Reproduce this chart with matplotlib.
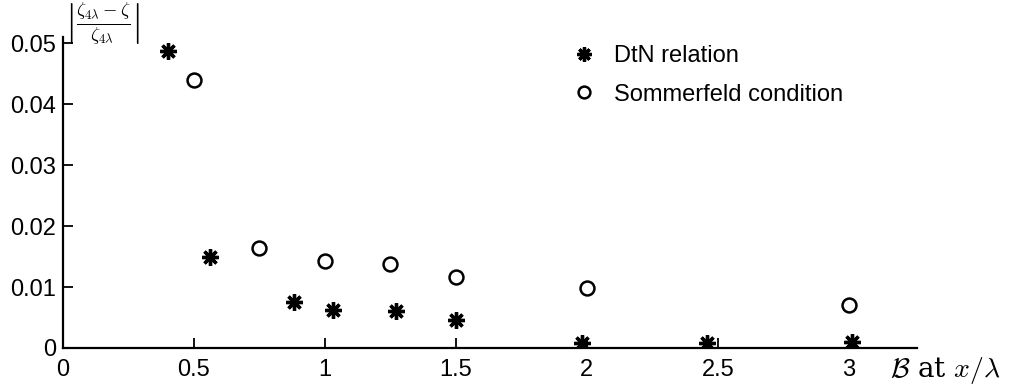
import matplotlib
matplotlib.use("Agg")
import matplotlib.pyplot as plt

# data
dtn_x = [0.40, 0.56, 0.88, 1.03, 1.27, 1.50, 1.98, 2.46, 3.01]
dtn_y = [0.0487, 0.0149, 0.0076, 0.0063, 0.0061, 0.0046, 0.0009, 0.0008, 0.0010]
som_x = [0.50, 0.75, 1.00, 1.25, 1.50, 2.00, 3.00]
som_y = [0.0439, 0.0164, 0.0142, 0.0138, 0.0117, 0.0098, 0.0071]

xticks = [0, 0.5, 1, 1.5, 2, 2.5, 3]
xtick_labels = ["0", "0.5", "1", "1.5", "2", "2.5", "3"]
yticks = [0, 0.01, 0.02, 0.03, 0.04, 0.05]
ytick_labels = ["0", "0.01", "0.02", "0.03", "0.04", "0.05"]

plt.rcParams['font.family'] = ['Liberation Sans', 'DejaVu Sans']
plt.rcParams['mathtext.fontset'] = 'cm'

W, H = 1010, 388
fig = plt.figure(figsize=(W / 100, H / 100), dpi=100)
ax = fig.add_axes([63 / W, 1 - 348 / H, (917 - 63) / W, (348 - 37) / H])

ax.plot(dtn_x, dtn_y, linestyle='none', marker=(8, 2, 0), markersize=12,
        markeredgewidth=2.4, color='k', label='DtN relation')
ax.plot(som_x, som_y, linestyle='none', marker='o', markersize=10,
        markerfacecolor='none', markeredgewidth=1.8, color='k',
        label='Sommerfeld condition')

ax.set_xlim(0, 3.26)
ax.set_ylim(0, 0.051)
ax.set_xticks(xticks)
ax.set_xticklabels(xtick_labels)
ax.set_yticks(yticks)
ax.set_yticklabels(ytick_labels)
ax.tick_params(direction='in', length=7, width=1.3, labelsize=17, pad=5)
ax.tick_params(axis='x', pad=8)

for s in ['top', 'right']:
    ax.spines[s].set_visible(False)
for s in ['left', 'bottom']:
    ax.spines[s].set_linewidth(1.6)

ax.legend(loc='upper left', bbox_to_anchor=(566 / W, 1 - 45 / H),
          bbox_transform=fig.transFigure, frameon=False, fontsize=17,
          handletextpad=0.55, labelspacing=0.7, handlelength=1.5,
          borderpad=0, borderaxespad=0, markerscale=0.85)

fig.text(890 / W, 1 - 371 / H, r'$\mathcal{B}$ at $x/\lambda$',
         fontsize=20, ha='left', va='center', family='serif',
         math_fontfamily='cm')
fig.text(65 / W, 1 - 24 / H,
         r'$\left|\frac{\zeta_{4\lambda}-\zeta}{\zeta_{4\lambda}}\right|$',
         fontsize=19, ha='left', va='center')

fig.savefig('out.png', dpi=100)
